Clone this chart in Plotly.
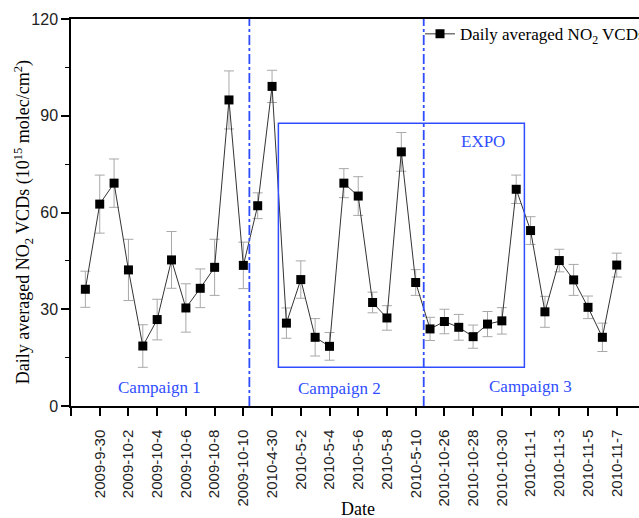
import plotly.graph_objects as go

dates = [
    "2009-9-29", "2009-9-30", "2009-10-1", "2009-10-2", "2009-10-3", "2009-10-4",
    "2009-10-5", "2009-10-6", "2009-10-7", "2009-10-8", "2009-10-9", "2009-10-10",
    "2010-4-29", "2010-4-30", "2010-5-1", "2010-5-2", "2010-5-3", "2010-5-4",
    "2010-5-5", "2010-5-6", "2010-5-7", "2010-5-8", "2010-5-9", "2010-5-10",
    "2010-10-25", "2010-10-26", "2010-10-27", "2010-10-28", "2010-10-29", "2010-10-30",
    "2010-10-31", "2010-11-1", "2010-11-2", "2010-11-3", "2010-11-4", "2010-11-5",
    "2010-11-6", "2010-11-7",
]
no2_vcd = [
    36.2, 62.6, 69.1, 42.2, 18.6, 26.8, 45.3, 30.4, 36.5, 43.0, 94.9, 43.6,
    62.1, 99.1, 25.7, 39.2, 21.3, 18.5, 69.1, 65.1, 32.1, 27.3, 78.8, 38.3,
    23.9, 26.2, 24.4, 21.5, 25.4, 26.4, 67.2, 54.4, 29.2, 45.1, 39.1, 30.6,
    21.3, 43.7,
]
no2_err = [
    5.6, 9.0, 7.5, 9.5, 6.6, 6.3, 8.8, 7.5, 6.0, 8.7, 9.0, 7.2,
    4.0, 5.0, 4.7, 5.8, 5.8, 4.3, 4.5, 6.0, 3.2, 3.8, 6.0, 4.0,
    3.6, 3.8, 4.0, 3.6, 3.9, 4.1, 4.4, 4.3, 4.8, 3.5, 4.8, 3.5,
    4.4, 3.7,
]

idx = list(range(len(dates)))
tick_idx = [-1] + [i for i in idx if i % 2 == 1]
tick_txt = [""] + [dates[i] for i in idx if i % 2 == 1]

BLUE = "#2f4dff"
SERIF = "Liberation Serif"
SANS = "Liberation Sans"

fig = go.Figure()
fig.add_trace(go.Scatter(
    x=idx, y=no2_vcd,
    mode="lines+markers",
    name="Daily averaged NO<sub>2</sub> VCDs",
    line=dict(color="#333333", width=1),
    marker=dict(symbol="square", size=9, color="black"),
    error_y=dict(type="data", array=no2_err, visible=True,
                 color="#a8a8a8", thickness=1, width=5),
))

# Campaign separators
for xv in [11.42, 23.56]:
    fig.add_shape(type="line", xref="x", yref="y", x0=xv, x1=xv, y0=0, y1=120,
                  line=dict(color=BLUE, width=1.8, dash="10px,3px,3px,3px"))

# EXPO box
fig.add_shape(type="rect", xref="x", yref="y", x0=13.44, x1=30.57, y0=12.0, y1=87.7,
              line=dict(color=BLUE, width=1.5), fillcolor="rgba(0,0,0,0)")

for txt, xv, yv in [("Campaign 1", 5.19, 5.8), ("Campaign 2", 17.69, 5.5),
                    ("Campaign 3", 30.99, 6.1), ("EXPO", 27.72, 82.1)]:
    fig.add_annotation(x=xv, y=yv, xref="x", yref="y", text=txt, showarrow=False,
                       xanchor="center", yanchor="middle",
                       font=dict(family=SERIF, size=17, color=BLUE))

# Axis titles
fig.add_annotation(x=(23 - 71) / 568, y=(405.7 - 222) / 387, xref="paper", yref="paper",
                   text="Daily averaged NO<sub>2</sub> VCDs (10<sup>15</sup> molec/cm<sup>2</sup>)",
                   textangle=-90, showarrow=False, xanchor="center", yanchor="middle",
                   font=dict(family=SERIF, size=18, color="black"))
fig.add_annotation(x=(358 - 71) / 568, y=-(509 - 405.7) / 387, xref="paper", yref="paper",
                   text="Date", showarrow=False, xanchor="center", yanchor="middle",
                   font=dict(family=SERIF, size=18, color="black"))

fig.update_layout(
    width=639, height=518,
    margin=dict(l=71, r=0, t=19, b=112, autoexpand=False),
    paper_bgcolor="white", plot_bgcolor="white",
    showlegend=True,
    legend=dict(x=(420 - 71) / 568, y=(405.7 - 34) / 387, xanchor="left", yanchor="middle",
                bgcolor="rgba(0,0,0,0)", borderwidth=0,
                font=dict(family=SERIF, size=17, color="black")),
    xaxis=dict(
        range=[-1, 38.55], showgrid=False, zeroline=False, automargin=False,
        showline=True, linecolor="black", linewidth=1.5, mirror=True,
        tickmode="array", tickvals=tick_idx, ticktext=tick_txt,
        tickangle=-90, ticks="outside", ticklen=8, tickwidth=1.5, tickcolor="black",
        ticklabelstandoff=8,
        tickfont=dict(family=SANS, size=15, color="#222"),
    ),
    yaxis=dict(
        range=[0, 120], showgrid=False, zeroline=False, automargin=False,
        showline=True, linecolor="black", linewidth=1.5, mirror=False,
        dtick=30, tick0=0, ticks="outside", ticklen=8, tickwidth=1.5, tickcolor="black",
        tickfont=dict(family=SANS, size=16, color="#222"),
        minor=dict(dtick=15, ticks="outside", ticklen=4, tickwidth=1.2, tickcolor="black"),
    ),
)

fig.write_html("out.html")
